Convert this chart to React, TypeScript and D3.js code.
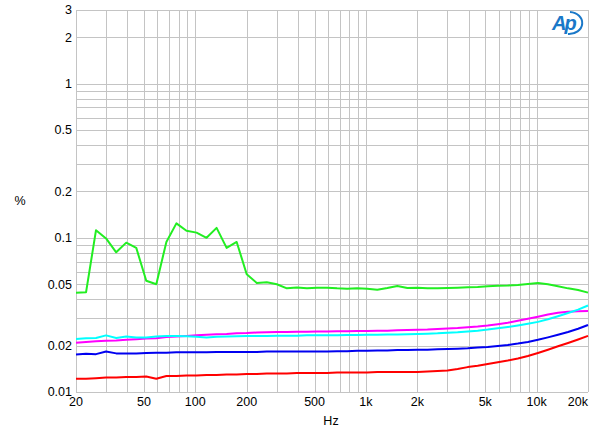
import { useEffect, useRef } from "react";
import * as d3 from "d3";

// sweep frequencies (Hz), roughly 1/5 octave steps
const freqs = [
  20, 22.9, 26.2, 30, 34.4, 39.4, 45.1, 51.6, 59.1, 67.7, 77.5, 88.8, 101.7, 116.4, 133.3,
  152.6, 174.8, 200.1, 229.2, 262.4, 300.5, 344.1, 394, 451.2, 516.6, 591.6, 677.4, 775.7,
  888.3, 1017, 1165, 1334, 1527, 1749, 2003, 2293, 2626, 3007, 3443, 3943, 4515, 5170,
  5920, 6779, 7763, 8889, 10180, 11650, 13340, 15280, 17500, 20000,
];

const green = [
  0.044, 0.0443, 0.112, 0.099, 0.0805, 0.093, 0.086, 0.0527, 0.05, 0.094, 0.124, 0.111, 0.108,
  0.1, 0.116, 0.086, 0.094, 0.058, 0.051, 0.0515, 0.05, 0.047, 0.0476, 0.047, 0.0474, 0.0475,
  0.047, 0.0468, 0.047, 0.0468, 0.046, 0.0472, 0.0487, 0.0472, 0.0475, 0.047, 0.047, 0.0472,
  0.0475, 0.0478, 0.048, 0.0485, 0.0488, 0.049, 0.0495, 0.0502, 0.051, 0.05, 0.0485, 0.047,
  0.0458, 0.0441,
];

const magenta = [
  0.0209, 0.0211, 0.0213, 0.0215, 0.0216, 0.0218, 0.022, 0.0222, 0.0223, 0.0227, 0.0229, 0.0231,
  0.0233, 0.0235, 0.0237, 0.0238, 0.024, 0.0241, 0.0243, 0.0244, 0.0245, 0.0245, 0.0246, 0.0246,
  0.0247, 0.0247, 0.0248, 0.0248, 0.0249, 0.0249, 0.025, 0.025, 0.0251, 0.0252, 0.0253, 0.0254,
  0.0256, 0.0258, 0.026, 0.0263, 0.0266, 0.027, 0.0275, 0.0281, 0.029, 0.0299, 0.0308, 0.0318,
  0.0327, 0.0332, 0.0334, 0.0335,
];

const cyan = [
  0.0221, 0.0223, 0.0224, 0.0233, 0.0224, 0.0229, 0.0226, 0.0226, 0.0229, 0.0231, 0.0231, 0.023,
  0.0228, 0.0226, 0.0228, 0.0229, 0.023, 0.0231, 0.0231, 0.0231, 0.0232, 0.0232, 0.0232, 0.0233,
  0.0233, 0.0233, 0.0233, 0.0234, 0.0234, 0.0235, 0.0235, 0.0236, 0.0236, 0.0237, 0.0238, 0.0239,
  0.024, 0.0242, 0.0244, 0.0247, 0.025, 0.0254, 0.0259, 0.0264, 0.027, 0.0277, 0.0285, 0.0296,
  0.031, 0.0325, 0.0342, 0.0364,
];

const blue = [
  0.0175, 0.0177, 0.0176, 0.0183, 0.0178, 0.0178, 0.0178, 0.0179, 0.018, 0.018, 0.0181, 0.0181,
  0.0181, 0.0181, 0.0182, 0.0182, 0.0182, 0.0182, 0.0182, 0.0183, 0.0183, 0.0183, 0.0183, 0.0183,
  0.0183, 0.0183, 0.0184, 0.0184, 0.0185, 0.0185, 0.0186, 0.0186, 0.0187, 0.0187, 0.0188, 0.0188,
  0.0189, 0.019, 0.0191, 0.0192, 0.0194, 0.0196, 0.0199, 0.0202, 0.0206, 0.0211, 0.0218, 0.0226,
  0.0235, 0.0245, 0.0257, 0.0272,
];

const red = [
  0.0122, 0.0122, 0.0123, 0.0124, 0.0124, 0.0125, 0.0125, 0.0126, 0.0122, 0.0127, 0.0127, 0.0128,
  0.0128, 0.0129, 0.0129, 0.013, 0.013, 0.0131, 0.0131, 0.0132, 0.0132, 0.0132, 0.0133, 0.0133,
  0.0133, 0.0133, 0.0134, 0.0134, 0.0134, 0.0134, 0.0135, 0.0135, 0.0135, 0.0135, 0.0135, 0.0136,
  0.0137, 0.0138, 0.0141, 0.0145, 0.0148, 0.0152, 0.0156, 0.016, 0.0165, 0.0171, 0.0179, 0.0188,
  0.0198, 0.0208, 0.0219, 0.0231,
];

const series = [
  { name: "green", color: "#22ee22", values: green },
  { name: "magenta", color: "#ff00ff", values: magenta },
  { name: "cyan", color: "#00ffff", values: cyan },
  { name: "blue", color: "#0000f0", values: blue },
  { name: "red", color: "#ff0000", values: red },
];

const xGrid = [20, 30, 40, 50, 60, 70, 80, 90, 100, 200, 300, 400, 500, 600, 700, 800, 900,
  1000, 2000, 3000, 4000, 5000, 6000, 7000, 8000, 9000, 10000, 20000];
const xLabels = [20, 50, 100, 200, 500, 1000, 2000, 5000, 10000, 20000];
const xLabelText = ["20", "50", "100", "200", "500", "1k", "2k", "5k", "10k", "20k"];

const yGrid = [0.01, 0.02, 0.03, 0.04, 0.05, 0.06, 0.07, 0.08, 0.09, 0.1, 0.2, 0.3, 0.4, 0.5,
  0.6, 0.7, 0.8, 0.9, 1, 2, 3];
const yLabels = [0.01, 0.02, 0.05, 0.1, 0.2, 0.5, 1, 2, 3];

export default function App() {
  const width = 600;
  const height = 437;
  const marginTop = 10;
  const marginRight = 12;
  const marginBottom = 45;
  const marginLeft = 76;

  const ref = useRef(null);

  useEffect(() => {
    const svg = d3.select(ref.current);
    svg.selectAll("*").remove();

    const x = d3.scaleLog().domain([20, 20000]).range([marginLeft, width - marginRight]);
    const y = d3.scaleLog().domain([0.01, 3]).range([height - marginBottom, marginTop]);

    const font = "Arial, 'Liberation Sans', sans-serif";

    // grid
    const grid = svg.append("g").attr("stroke", "#c4c4c4").attr("stroke-width", 1);
    grid.selectAll(".vx")
      .data(xGrid)
      .join("line")
      .attr("x1", d => Math.round(x(d)) + 0.5)
      .attr("x2", d => Math.round(x(d)) + 0.5)
      .attr("y1", marginTop)
      .attr("y2", height - marginBottom);
    grid.selectAll(".hy")
      .data(yGrid)
      .join("line")
      .attr("y1", d => Math.round(y(d)) + 0.5)
      .attr("y2", d => Math.round(y(d)) + 0.5)
      .attr("x1", marginLeft)
      .attr("x2", width - marginRight);

    // curves
    const line = d3.line<number>()
      .x((_, i) => x(freqs[i]))
      .y(d => y(d));
    svg.append("g")
      .selectAll("path")
      .data(series)
      .join("path")
      .attr("fill", "none")
      .attr("stroke", d => d.color)
      .attr("stroke-width", 2)
      .attr("stroke-linejoin", "round")
      .attr("d", d => line(d.values));

    // y tick labels
    svg.append("g")
      .selectAll("text")
      .data(yLabels)
      .join("text")
      .attr("x", marginLeft - 4)
      .attr("y", d => y(d))
      .attr("dy", "0.35em")
      .attr("text-anchor", "end")
      .attr("font-family", font)
      .attr("font-size", 12.5)
      .attr("fill", "#000")
      .text(d => String(d));

    // x tick labels
    svg.append("g")
      .selectAll("text")
      .data(xLabels)
      .join("text")
      .attr("x", d => x(d))
      .attr("y", height - marginBottom + 14)
      .attr("text-anchor", (d, i) => (i === xLabels.length - 1 ? "end" : "middle"))
      .attr("font-family", font)
      .attr("font-size", 12.5)
      .attr("fill", "#000")
      .text((d, i) => xLabelText[i]);

    svg.append("text")
      .attr("x", 20)
      .attr("y", 205)
      .attr("text-anchor", "middle")
      .attr("font-family", font)
      .attr("font-size", 12.5)
      .text("%");

    svg.append("text")
      .attr("x", 331)
      .attr("y", 425)
      .attr("text-anchor", "middle")
      .attr("font-family", font)
      .attr("font-size", 12.5)
      .text("Hz");

    // Ap logo
    const logo = svg.append("g").attr("fill", "#1a78c8");
    logo.append("text")
      .attr("x", 552)
      .attr("y", 30)
      .attr("font-family", font)
      .attr("font-size", 20)
      .attr("font-style", "italic")
      .attr("font-weight", "bold")
      .attr("letter-spacing", -2)
      .text("Ap");
    logo.append("path")
      .attr("fill", "none")
      .attr("stroke", "#1a78c8")
      .attr("stroke-width", 2)
      .attr("d", "M570,12 A12,10 0 0 1 568,34");
  }, []);

  return (
    <svg ref={ref} width={width} height={height} style={{ display: "block", position: "absolute", left: 0, top: 0, background: "#fff" }} />
  );
}
